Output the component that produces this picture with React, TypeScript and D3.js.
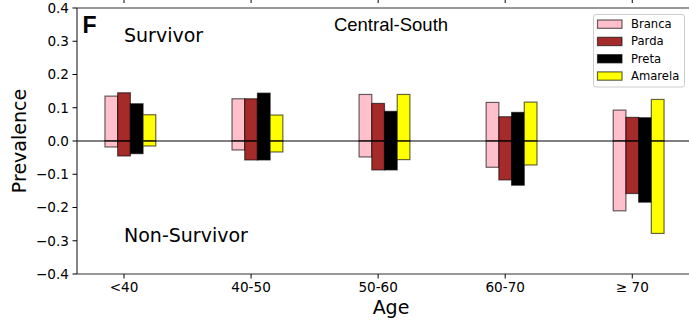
import React from "react";
import * as d3 from "d3";

const ageGroups = ["<40", "40-50", "50-60", "60-70", "≥ 70"];
const seriesNames = ["Branca", "Parda", "Preta", "Amarela"];
const seriesColors = ["#ffc0cb", "#a52a2a", "#000000", "#ffff00"];
const seriesOffsets = [-0.1, 0, 0.1, 0.2];

const brancaSurvivor = [0.135, 0.127, 0.14, 0.116, 0.093];
const brancaNonSurvivor = [-0.018, -0.027, -0.048, -0.079, -0.21];
const pardaSurvivor = [0.145, 0.127, 0.113, 0.073, 0.071];
const pardaNonSurvivor = [-0.045, -0.057, -0.087, -0.117, -0.158];
const pretaSurvivor = [0.112, 0.144, 0.089, 0.086, 0.07];
const pretaNonSurvivor = [-0.038, -0.057, -0.087, -0.133, -0.184];
const amarelaSurvivor = [0.079, 0.078, 0.14, 0.117, 0.125];
const amarelaNonSurvivor = [-0.015, -0.033, -0.056, -0.072, -0.278];

const yTicks = [-0.4, -0.3, -0.2, -0.1, 0.0, 0.1, 0.2, 0.3, 0.4];

const survivorSeries = [brancaSurvivor, pardaSurvivor, pretaSurvivor, amarelaSurvivor];
const nonSurvivorSeries = [brancaNonSurvivor, pardaNonSurvivor, pretaNonSurvivor, amarelaNonSurvivor];

const W = 689;
const H = 320;
const left = 77;
const right = 692;
const top = 8;
const bottom = 274;
const barWidth = 0.1;

export default function App() {
  const x = d3.scaleLinear().domain([-0.37, 4.47]).range([left, right]);
  const y = d3.scaleLinear().domain([-0.4, 0.4]).range([bottom, top]);
  const bw = x(barWidth) - x(0);
  const fmt = (v: number) => {
    const s = Math.abs(v).toFixed(1);
    return v < -1e-9 ? "\u2212" + s : s;
  };
  const font = "DejaVu Sans, sans-serif";

  const bars: React.ReactNode[] = [];
  seriesNames.forEach((name, si) => {
    ageGroups.forEach((g, gi) => {
      const cx = x(gi + seriesOffsets[si]);
      const pos = survivorSeries[si][gi];
      const neg = nonSurvivorSeries[si][gi];
      bars.push(
        <rect
          key={`s-${si}-${gi}`}
          x={cx - bw / 2}
          y={y(pos)}
          width={bw}
          height={y(0) - y(pos)}
          fill={seriesColors[si]}
          stroke="#000"
          strokeOpacity={0.6}
          strokeWidth={1.2}
        />
      );
      bars.push(
        <rect
          key={`n-${si}-${gi}`}
          x={cx - bw / 2}
          y={y(0)}
          width={bw}
          height={y(neg) - y(0)}
          fill={seriesColors[si]}
          stroke="#000"
          strokeOpacity={0.6}
          strokeWidth={1.2}
        />
      );
    });
  });

  return (
    <svg
      width={W}
      height={H}
      style={{ position: "absolute", left: 0, top: 0, background: "#fff" }}
      fontFamily={font}
    >
      <rect x={0} y={0} width={W} height={H} fill="#fff" />
      {/* remnants of panel above */}
      {ageGroups.map((g, i) => (
        <line key={`pt-${i}`} x1={x(i)} x2={x(i)} y1={0} y2={3} stroke="#000" strokeWidth={1} />
      ))}
      {bars}
      {/* zero line */}
      <line x1={left} x2={W} y1={y(0)} y2={y(0)} stroke="#000" strokeWidth={1} />
      {/* spines */}
      <line x1={left} x2={W} y1={top} y2={top} stroke="#333" strokeWidth={1.1} />
      <line x1={left} x2={W} y1={bottom} y2={bottom} stroke="#333" strokeWidth={1.1} />
      <line x1={left} x2={left} y1={top} y2={bottom} stroke="#222" strokeWidth={1.1} />
      {/* y ticks */}
      {yTicks.map((t) => (
        <g key={`yt-${t}`}>
          <line x1={left - 4.5} x2={left} y1={y(t)} y2={y(t)} stroke="#000" strokeWidth={1} />
          <text x={left - 8} y={y(t)} dy="0.36em" textAnchor="end" fontSize={13.6} fill="#000">
            {fmt(t)}
          </text>
        </g>
      ))}
      {/* x ticks */}
      {ageGroups.map((g, i) => (
        <g key={`xt-${i}`}>
          <line x1={x(i)} x2={x(i)} y1={bottom} y2={bottom + 4.5} stroke="#000" strokeWidth={1} />
          <text x={x(i)} y={292} textAnchor="middle" fontSize={13.6} fill="#000">
            {g}
          </text>
        </g>
      ))}
      {/* axis labels */}
      <text x={391} y={314} textAnchor="middle" fontSize={19} fill="#000">
        Age
      </text>
      <text
        transform={`translate(26, ${(top + bottom) / 2}) rotate(-90)`}
        textAnchor="middle"
        fontSize={19}
        fill="#000"
      >
        Prevalence
      </text>
      {/* annotations */}
      <text x={82.5} y={33.3} fontFamily="Liberation Sans, Arial, sans-serif" fontWeight="bold" fontSize={23} fill="#000">
        F
      </text>
      <text x={124} y={42.3} fontSize={19} fill="#000">
        Survivor
      </text>
      <text x={124} y={242.3} fontSize={19} fill="#000">
        Non-Survivor
      </text>
      <text x={391} y={30.5} textAnchor="middle" fontFamily="Liberation Sans, Arial, sans-serif" fontSize={18.5} fill="#000">
        Central-South
      </text>
      {/* legend */}
      <rect x={593.5} y={14.5} width={91} height={72.5} rx={2.5} fill="#fff" fillOpacity={0.8} stroke="#ccc" strokeWidth={1} />
      {seriesNames.map((name, i) => {
        const cy = 24 + i * 17.3;
        return (
          <g key={`lg-${i}`}>
            <rect x={597.5} y={cy - 4} width={24.5} height={8.3} fill={seriesColors[i]} stroke="#000" strokeOpacity={0.6} strokeWidth={1.2} />
            <text x={631} y={cy} dy="0.36em" fontSize={11.6} fill="#000">
              {name}
            </text>
          </g>
        );
      })}
    </svg>
  );
}
